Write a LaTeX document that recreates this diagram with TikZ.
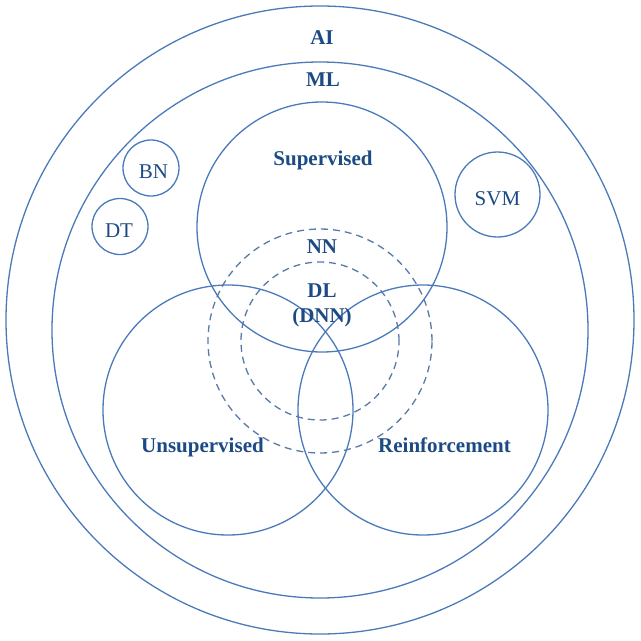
\documentclass[tikz,border=0pt]{standalone}
\usepackage{fontspec}
\setmainfont{Liberation Serif}
\definecolor{ringblue}{RGB}{74,122,186}
\definecolor{dashblue}{RGB}{88,122,168}
\definecolor{txtblue}{RGB}{28,74,132}
\tikzset{
  ring/.style={circle, draw=ringblue, line width=1.3pt, inner sep=0pt, minimum size=#1},
  dring/.style={circle, draw=dashblue, line width=1.3pt, dash pattern=on 7pt off 5pt, inner sep=0pt, minimum size=#1},
  lbl/.style={text=txtblue, font=\fontsize{21}{23}\selectfont\bfseries, inner sep=0pt, anchor=base},
  sml/.style={text=txtblue, font=\fontsize{21}{23}\selectfont, inner sep=0pt, anchor=base}
}
\begin{document}
\begin{tikzpicture}[x=1pt,y=-1pt]
\useasboundingbox (0,0) rectangle (641,641);
\node[ring=628pt] (ai) at (320,320) {};
\node[ring=536pt] (ml) at (320,330) {};
\node[ring=250pt] (sup) at (322,227) {};
\node[ring=250pt] (uns) at (228,410) {};
\node[ring=250pt] (rein) at (423,410) {};
\node[dring=224pt] (nn) at (320,341) {};
\node[dring=158pt] (dl) at (320,341) {};
\node[ring=56pt] (bn) at (151,168) {};
\node[ring=56pt] (dt) at (120,226.5) {};
\node[ring=85pt] (svm) at (497.5,194.5) {};
\node[lbl] (tai) at (322,44) {AI};
\node[lbl] (tml) at (323,86) {ML};
\node[lbl] (tsup) at (323,165) {Supervised};
\node[lbl] (tnn) at (322,253) {NN};
\node[lbl] (tdl) at (322,297) {DL};
\node[lbl] (tdnn) at (322,322) {(DNN)};
\node[lbl] (tuns) at (202.5,452) {Unsupervised};
\node[lbl] (trein) at (444.5,452) {Reinforcement};
\node[sml] (tbn) at (153.5,178) {BN};
\node[sml] (tdt) at (119,237) {DT};
\node[sml] (tsvm) at (497.5,205) {SVM};
\end{tikzpicture}
\end{document}
